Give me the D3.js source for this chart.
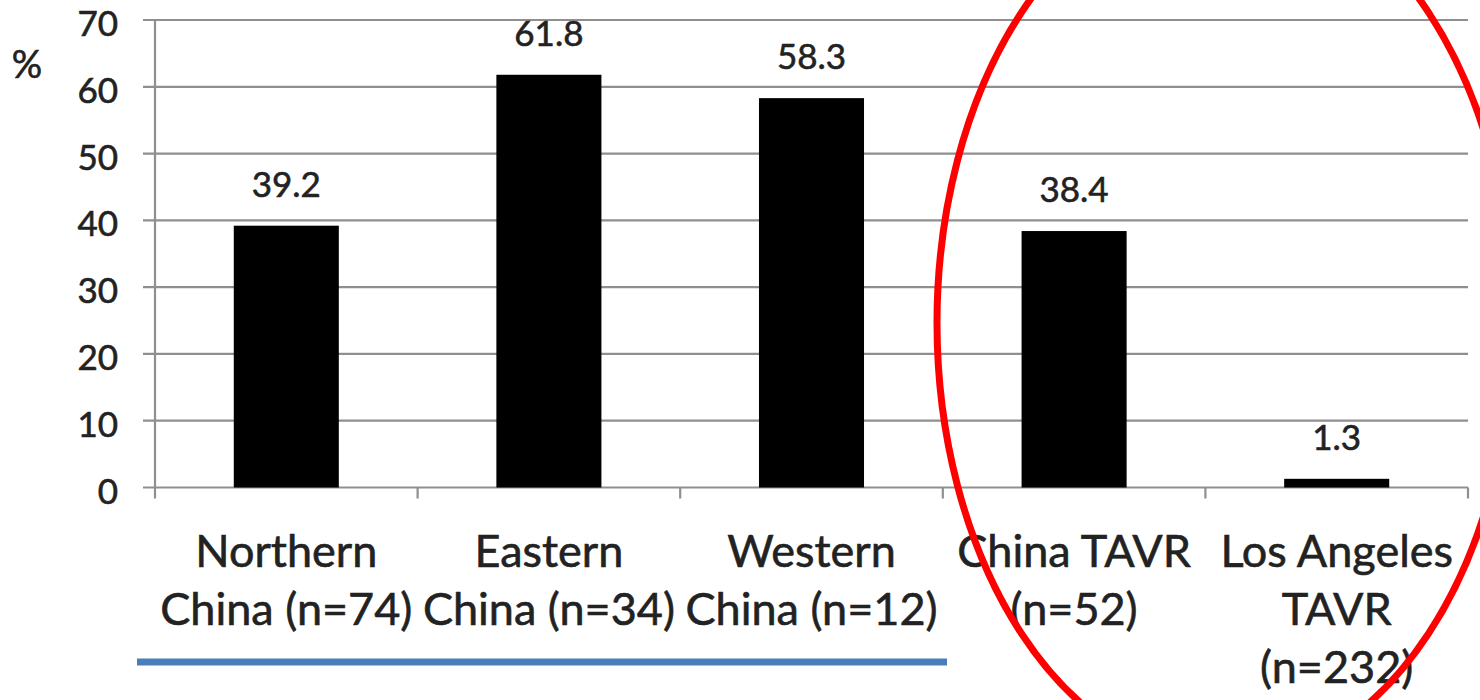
<!DOCTYPE html>
<html>
<head>
<meta charset="utf-8">
<script src="https://cdn.jsdelivr.net/npm/d3@7"></script>
<style>
  html, body { margin: 0; padding: 0; background: #fff; }
  svg { display: block; }
  text { font-family: Lato, "Open Sans", sans-serif; fill: #222; stroke: #222; stroke-width: 0.6px; }
</style>
</head>
<body>
<svg id="chart" width="1480" height="700"></svg>
<script>
// Category labels (each line of a label is a separate entry)
const categories = [
  ["Northern", "China (n=74)"],
  ["Eastern", "China (n=34)"],
  ["Western", "China (n=12)"],
  ["China TAVR", "(n=52)"],
  ["Los Angeles", "TAVR", "(n=232)"]
];
// Percentage for each group
const values = [39.2, 61.8, 58.3, 38.4, 1.3];
const yTicks = [0, 10, 20, 30, 40, 50, 60, 70];
const yLabel = "%";

const svg = d3.select("#chart");
const plot = { left: 155, right: 1468, top: 20, bottom: 487.5 };

const keys = categories.map((c, i) => i);
const x = d3.scaleBand()
  .domain(keys)
  .range([plot.left, plot.right])
  .paddingInner(0.6)
  .paddingOuter(0.3);
const xCat = d3.scaleBand().domain(keys).range([plot.left, plot.right]).padding(0);
const y = d3.scaleLinear().domain([0, 70]).range([plot.bottom, plot.top]);

const gridColor = "#8f8f8f";

// horizontal gridlines with short ticks left of the axis
svg.append("g")
  .selectAll("line")
  .data(yTicks)
  .join("line")
  .attr("x1", plot.left - 12)
  .attr("x2", plot.right)
  .attr("y1", d => y(d))
  .attr("y2", d => y(d))
  .attr("stroke", gridColor)
  .attr("stroke-width", 2.2);

// y axis line
svg.append("line")
  .attr("x1", plot.left).attr("x2", plot.left)
  .attr("y1", plot.top).attr("y2", plot.bottom + 11)
  .attr("stroke", gridColor).attr("stroke-width", 2.2);

// category boundary ticks below the baseline
const bounds = keys.map(k => xCat(k) + xCat.bandwidth());
svg.append("g")
  .selectAll("line")
  .data(bounds)
  .join("line")
  .attr("x1", d => d).attr("x2", d => d)
  .attr("y1", plot.bottom).attr("y2", plot.bottom + 11)
  .attr("stroke", gridColor).attr("stroke-width", 2.2);

// y tick labels
svg.append("g")
  .selectAll("text")
  .data(yTicks)
  .join("text")
  .attr("x", 118)
  .attr("y", d => y(d) + 16)
  .attr("text-anchor", "end")
  .attr("font-size", 35)
  .text(d => d);

// axis unit
svg.append("text")
  .attr("x", 27).attr("y", 78)
  .attr("text-anchor", "middle")
  .attr("font-size", 38)
  .text(yLabel);

// bars
svg.append("g")
  .selectAll("rect")
  .data(values)
  .join("rect")
  .attr("x", (d, i) => x(i))
  .attr("width", x.bandwidth())
  .attr("y", d => y(d))
  .attr("height", d => y(0) - y(d))
  .attr("fill", "#000");

// value labels above bars
svg.append("g")
  .selectAll("text")
  .data(values)
  .join("text")
  .attr("x", (d, i) => x(i) + x.bandwidth() / 2)
  .attr("y", d => y(d) - 29)
  .attr("text-anchor", "middle")
  .attr("font-size", 35)
  .text(d => d.toFixed(1));

// category labels
const catG = svg.append("g")
  .selectAll("text")
  .data(categories)
  .join("text")
  .attr("text-anchor", "middle")
  .attr("font-size", 45);
catG.selectAll("tspan")
  .data((d, i) => d.map((line, j) => ({ line, j, i })))
  .join("tspan")
  .attr("x", d => xCat(d.i) + xCat.bandwidth() / 2)
  .attr("y", d => 567 + d.j * 58)
  .text(d => d.line);

// blue underline grouping the regional cohorts
svg.append("line")
  .attr("x1", 137).attr("x2", 947)
  .attr("y1", 662).attr("y2", 662)
  .attr("stroke", "#4a7ebb")
  .attr("stroke-width", 7);

// red ellipse highlighting the TAVR cohorts
svg.append("ellipse")
  .attr("cx", 1225).attr("cy", 323)
  .attr("rx", 288).attr("ry", 439)
  .attr("fill", "none")
  .attr("stroke", "#ff0000")
  .attr("stroke-width", 7);
</script>
</body>
</html>
